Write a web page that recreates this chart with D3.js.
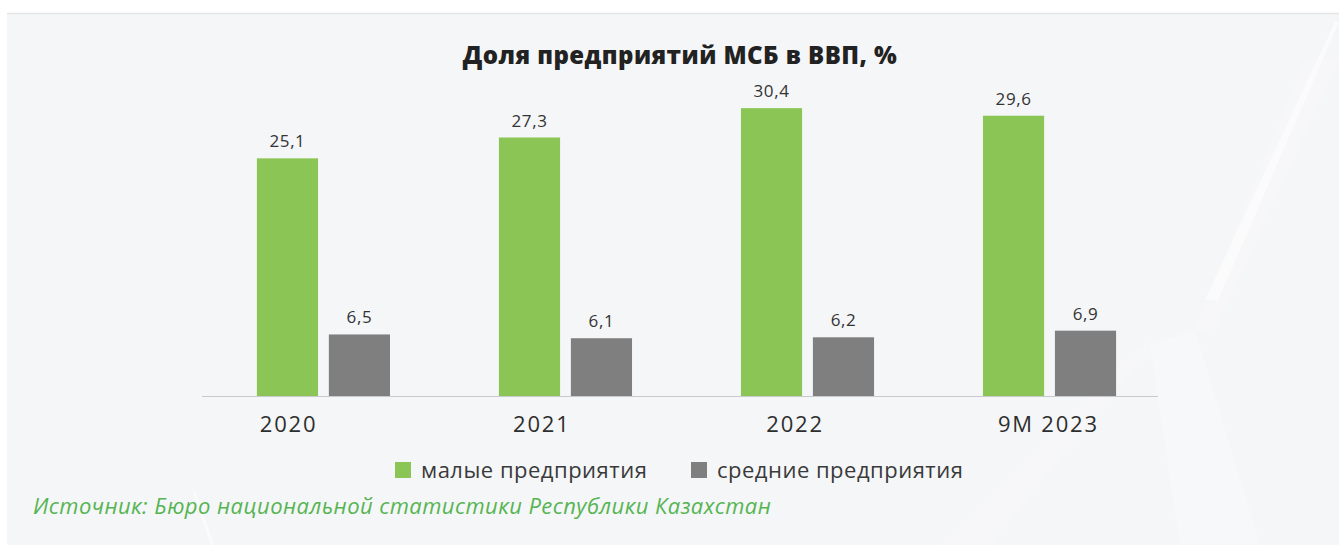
<!DOCTYPE html>
<html lang="ru">
<head>
<meta charset="utf-8">
<script src="https://cdn.jsdelivr.net/npm/d3@7/dist/d3.min.js"></script>
<style>
  html, body { margin: 0; padding: 0; background: #fff; }
  svg { display: block; font-family: "Open Sans", "Noto Sans", sans-serif; }
</style>
</head>
<body>
<div id="chart"></div>
<script>
// Доля предприятий МСБ в ВВП, %
const categories = ['2020', '2021', '2022', '9M 2023'];
const smallValues = [25.1, 27.3, 30.4, 29.6];   // малые предприятия
const mediumValues = [6.5, 6.1, 6.2, 6.9];      // средние предприятия
const seriesNames = ['малые предприятия', 'средние предприятия'];
const seriesColors = ['#8bc555', '#7f7f7f'];

const W = 1339, H = 545;
const fmt = (v) => d3.format('.1f')(v).replace('.', ',');

const svg = d3.select('#chart').append('svg')
  .attr('width', W).attr('height', H);

// фон панели
svg.append('rect').attr('width', W).attr('height', H).attr('fill', '#ffffff');
svg.append('rect').attr('x', 7).attr('y', 14).attr('width', W - 7).attr('height', H - 14)
  .attr('fill', '#f5f6f8');
svg.append('line').attr('x1', 7).attr('x2', W).attr('y1', 13.5).attr('y2', 13.5)
  .attr('stroke', '#e4e5e7').attr('stroke-width', 1.5);

// бледный силуэт ветряка на фоне
const deco = svg.append('g').attr('fill', '#ffffff');
deco.append('path').attr('d', 'M1339,22 L1335,22 L1205,300 L1218,300 Z').attr('opacity', 0.6);
deco.append('path').attr('d', 'M1339,60 L1305,60 L1195,330 L1215,330 Z').attr('opacity', 0.2);
deco.append('path').attr('d', 'M1150,345 L1195,330 L1260,545 L1180,545 Z').attr('opacity', 0.25);
deco.append('path').attr('d', 'M1130,355 L1160,335 L990,545 L940,545 Z').attr('opacity', 0.2);
deco.append('path').attr('d', 'M193,492 L196,492 L214,545 L211,545 Z').attr('opacity', 0.5);

// шкалы
const x = d3.scaleBand().domain(categories).range([202, 1158])
  .paddingInner(0.45).paddingOuter(0.2).align(0.567);
const xSub = d3.scaleBand().domain(seriesNames).range([0, x.bandwidth()]).paddingInner(0.15);
const xLabel = d3.scaleBand().domain(categories).range([162, 1175]);
const y = d3.scaleLinear().domain([0, 32]).range([396, 93]);

const rows = categories.map((c, i) => ({ cat: c, vals: [smallValues[i], mediumValues[i]] }));

// столбцы
const groups = svg.append('g').selectAll('g').data(rows).join('g')
  .attr('transform', (d) => `translate(${x(d.cat)},0)`);

groups.selectAll('rect').data((d) => d.vals.map((v, j) => ({ v, name: seriesNames[j], j })))
  .join('rect')
  .attr('x', (d) => xSub(d.name))
  .attr('y', (d) => y(d.v))
  .attr('width', xSub.bandwidth())
  .attr('height', (d) => y(0) - y(d.v))
  .attr('fill', (d) => seriesColors[d.j]);

groups.selectAll('text').data((d) => d.vals.map((v, j) => ({ v, name: seriesNames[j] })))
  .join('text')
  .attr('x', (d) => xSub(d.name) + xSub.bandwidth() / 2)
  .attr('y', (d) => y(d.v) - 11)
  .attr('text-anchor', 'middle')
  .attr('font-size', 17)
  .attr('letter-spacing', 0.6)
  .attr('fill', '#333')
  .text((d) => fmt(d.v));

// ось X
svg.append('line')
  .attr('x1', x.range()[0]).attr('x2', x.range()[1])
  .attr('y1', y(0) + 0.5).attr('y2', y(0) + 0.5)
  .attr('stroke', '#c9cacc').attr('stroke-width', 1.2);

const xAxis = svg.append('g').attr('transform', `translate(0,${y(0)})`)
  .call(d3.axisBottom(xLabel).tickSize(0).tickPadding(20));
xAxis.select('.domain').remove();
xAxis.selectAll('text').attr('font-size', 22).attr('fill', '#2e2e2e')
  .attr('letter-spacing', 1.8)
  .attr('font-family', '"Open Sans", sans-serif');

// заголовок
svg.append('text').attr('x', 680).attr('y', 64).attr('text-anchor', 'middle')
  .attr('font-size', 24).attr('font-weight', 800).attr('fill', '#222')
  .attr('letter-spacing', 0.45)
  .text('Доля предприятий МСБ в ВВП, %');

// легенда
const legend = svg.append('g').attr('transform', 'translate(395,470)');
const legendX = [0, 296];
seriesNames.forEach((name, i) => {
  const g = legend.append('g').attr('transform', `translate(${legendX[i]},0)`);
  g.append('rect').attr('x', 0).attr('y', -8).attr('width', 16).attr('height', 16)
    .attr('fill', seriesColors[i]);
  g.append('text').attr('x', 26).attr('y', 0).attr('dy', '0.35em')
    .attr('font-size', 22).attr('letter-spacing', 0.5)
    .attr('fill', '#3a3a3a').text(name);
});

// источник
svg.append('text').attr('x', 33).attr('y', 514)
  .attr('font-size', 22).attr('font-style', 'italic').attr('fill', '#55b552')
  .attr('letter-spacing', 0.45)
  .text('Источник: Бюро национальной статистики Республики Казахстан');
</script>
</body>
</html>
